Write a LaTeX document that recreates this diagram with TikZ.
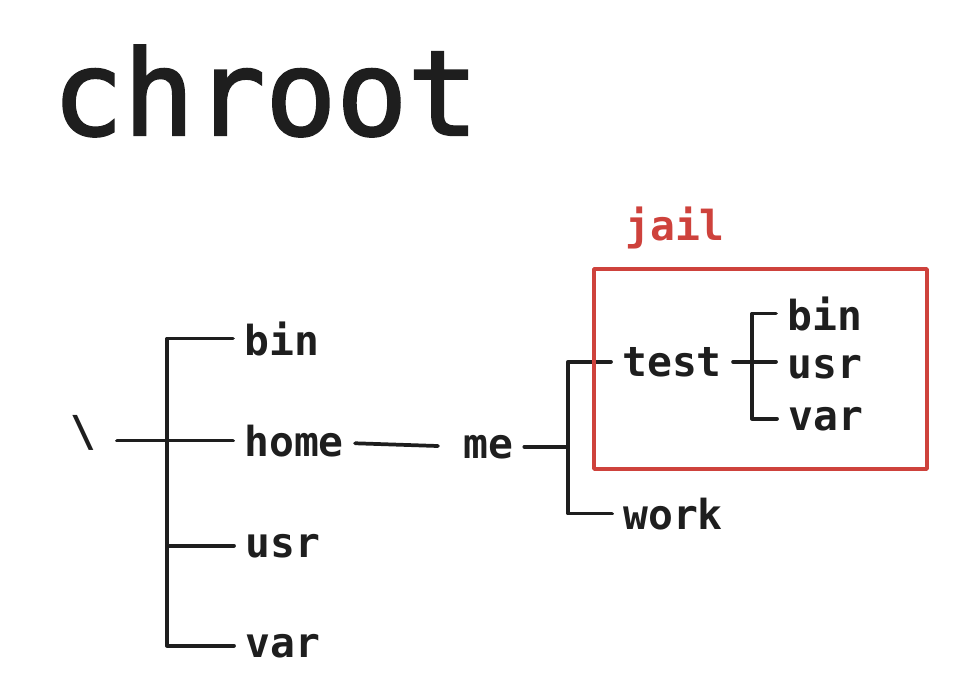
\documentclass[tikz,border=0pt]{standalone}
\usepackage{fontspec}
\newfontfamily\mono{DejaVu Sans Mono}
\newfontfamily\monotitle[FakeBold=2]{DejaVu Sans Mono}
\newfontfamily\monolbl{DejaVu Sans Mono Bold}
\definecolor{ink}{HTML}{1E1E1E}
\definecolor{jailred}{RGB}{206,66,60}
\tikzset{
  lbl/.style={font=\monolbl\fontsize{31}{36}\selectfont, text=ink, inner xsep=8.25pt, inner ysep=0pt, anchor=base west},
  conn/.style={draw=ink, line width=2.8pt, line cap=round, line join=round},
  jailbox/.style={draw=jailred, line width=2.8pt, line join=round}
}
\begin{document}
\begin{tikzpicture}[x=0.75pt,y=-0.75pt]
\useasboundingbox (0,0) rectangle (962,694);
% title
\node[font=\monotitle\fontsize{88.5}{100}\selectfont, text=ink, inner sep=0pt, anchor=base west] (title) at (52,135) {chroot};
% root tree
\node[font=\monolbl\fontsize{32}{36}\selectfont, text=ink, inner sep=0pt, anchor=center] (root) at (83,433) {\textbackslash};
\node[lbl] (bin1) at (233,355) {bin};
\node[lbl] (home) at (233,456) {home};
\node[lbl] (usr1) at (234,557) {usr};
\node[lbl] (var1) at (234,657) {var};
\node[lbl] (me) at (452,458) {me};
\node[lbl] (test) at (611,376) {test};
\node[lbl] (work) at (612,529) {work};
\node[lbl] (bin2) at (776,330) {bin};
\node[lbl] (usr2) at (776,378) {usr};
\node[lbl] (var2) at (777,430) {var};
\node[lbl, text=jailred] (jail) at (614,240) {jail};
% junction coordinates
\coordinate (t1) at (167,0);
\coordinate (rootend) at (117,0);
\coordinate (t2) at (568,0);
\coordinate (t3) at (752,0);
\coordinate (mein) at (438,446);
% connectors
\draw[conn] (home.west -| rootend) -- (home.west);
\draw[conn] (bin1.west) -- (bin1.west -| t1) -- (var1.west -| t1) -- (var1.west);
\draw[conn] (usr1.west -| t1) -- (usr1.west);
\draw[conn] ([yshift=-2pt]home.east) -- (mein);
\draw[conn] (me.east) -- (me.east -| t2);
\draw[conn] (test.west) -- (test.west -| t2) -- (work.west -| t2) -- (work.west);
\draw[conn] (test.east) -- (test.east -| usr2.west);
\draw[conn] (bin2.west) -- (bin2.west -| t3) -- (var2.west -| t3) -- (var2.west);
% jail box
\draw[jailbox] (594,269) rectangle (927,469);
\end{tikzpicture}
\end{document}
